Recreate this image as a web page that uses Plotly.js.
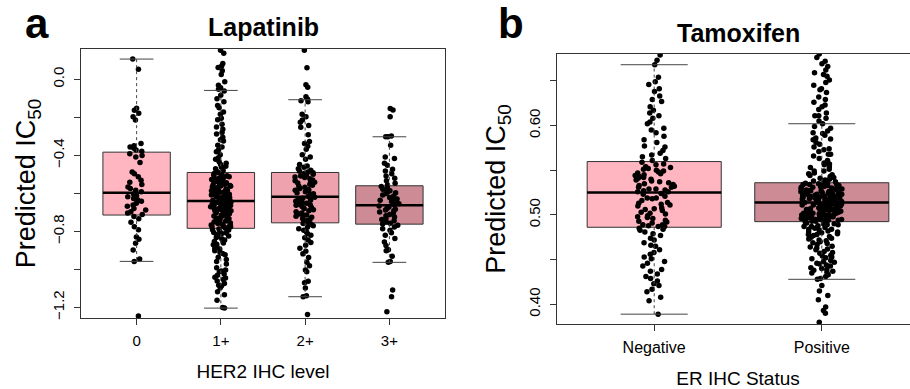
<!DOCTYPE html>
<html>
<head>
<meta charset="utf-8">
<script src="https://cdn.plot.ly/plotly-3.0.1.min.js"></script>
<style>
html, body { margin: 0; padding: 0; overflow: hidden; background: #fff; }
#chart { width: 925px; height: 389px; }
</style>
</head>
<body>
<div id="chart"></div>
<script>
// ---------------- Panel a: Lapatinib ----------------
const lapCats = ['0', '1+', '2+', '3+'];
const lapQ1  = [-0.714, -0.784, -0.755, -0.762];
const lapMed = [-0.597, -0.640, -0.618, -0.663];
const lapQ3  = [-0.383, -0.490, -0.490, -0.560];
const lapLo  = [-0.958, -1.204, -1.144, -0.963];
const lapHi  = [0.107, -0.058, -0.107, -0.302];
const lapColors = ['#FFB6C1', '#FFAEB9', '#EEA2AD', '#CD8C95'];
const lapYTicks = [-1.2, -1.0, -0.8, -0.6, -0.4, -0.2, 0.0];
const lapYLabels = ['\u22121.2', '', '\u22120.8', '', '\u22120.4', '', '0.0'];

const lapPts0 = [0.107, 0.053, -0.152, -0.163, -0.178, -0.196, -0.214, -0.338, -0.349, -0.356, -0.362, -0.371, -0.378,
  -0.392, -0.401, -0.409, -0.437, -0.488, -0.497, -0.512, -0.531, -0.542, -0.553, -0.566, -0.574, -0.583, -0.591,
  -0.603, -0.612, -0.618, -0.627, -0.635, -0.641, -0.652, -0.661, -0.668, -0.679, -0.688, -0.697, -0.703, -0.711,
  -0.722, -0.734, -0.752, -0.776, -0.791, -0.829, -0.841, -0.862, -0.898, -0.946, -0.958, -1.246];
const lapPts1 = [0.154, 0.138, 0.084, 0.071, 0.062, 0.045, 0.026, -0.013, -0.031, -0.044, -0.052, -0.061, -0.083,
  -0.102, -0.118, -0.137, -0.149, -0.171, -0.183, -0.204, -0.213, -0.236, -0.251, -0.262, -0.279, -0.288, -0.304,
  -0.318, -0.324, -0.347, -0.356, -0.372, -0.381, -0.397, -0.413, -0.421, -0.434, -0.441, -0.457, -0.463, -0.479, -0.486,
  -0.492, -0.495, -0.503, -0.507, -0.509, -0.516, -0.521, -0.524, -0.531, -0.533, -0.538, -0.544, -0.547, -0.552,
  -0.558, -0.561, -0.566, -0.569, -0.574, -0.579, -0.583, -0.588, -0.592, -0.594, -0.601, -0.604, -0.611, -0.613,
  -0.618, -0.622, -0.627, -0.631, -0.634, -0.637, -0.639, -0.512, -0.556, -0.597,
  -0.642, -0.645, -0.649, -0.653, -0.655, -0.661, -0.664, -0.668, -0.671, -0.676, -0.679, -0.683, -0.688, -0.691,
  -0.694, -0.699, -0.703, -0.707, -0.711, -0.714, -0.719, -0.723, -0.727, -0.731, -0.734, -0.738, -0.742, -0.747,
  -0.751, -0.756, -0.759, -0.764, -0.767, -0.772, -0.776, -0.779, -0.783, -0.658, -0.716, -0.745,
  -0.788, -0.793, -0.798, -0.806, -0.811, -0.818, -0.824, -0.832, -0.839, -0.846, -0.853, -0.861, -0.868, -0.877,
  -0.884, -0.893, -0.902, -0.911, -0.923, -0.936, -0.948, -0.972, -0.991, -1.003, -1.012, -1.024, -1.031, -1.042,
  -1.053, -1.061, -1.074, -1.088, -1.097, -1.118, -1.134, -1.163, -1.201, -1.204,
  -0.448, -0.471, -0.502, -0.527, -0.541, -0.563, -0.577, -0.586, -0.599, -0.608, -0.616, -0.624, -0.633, -0.644,
  -0.651, -0.662, -0.673, -0.681, -0.692, -0.701, -0.712, -0.721, -0.733, -0.748, -0.762, -0.774, -0.791, -0.808,
  -0.827, -0.848, -0.871, -0.889, -0.917, -0.958, -1.008, -1.046, -1.083];
const lapPts2 = [0.154, 0.061, -0.028, -0.041, -0.092, -0.104, -0.112, -0.118, -0.183, -0.197, -0.214, -0.226, -0.243,
  -0.252, -0.291, -0.327, -0.338, -0.352, -0.368, -0.397, -0.408, -0.421, -0.448, -0.456, -0.462, -0.471, -0.478,
  -0.483, -0.487,
  -0.491, -0.494, -0.499, -0.503, -0.508, -0.514, -0.517, -0.523, -0.529, -0.534, -0.541, -0.546, -0.552, -0.557,
  -0.563, -0.568, -0.574, -0.579, -0.586, -0.591, -0.597, -0.602, -0.607, -0.611, -0.616, -0.538, -0.583,
  -0.621, -0.626, -0.631, -0.636, -0.642, -0.647, -0.652, -0.658, -0.663, -0.669, -0.674, -0.679, -0.686, -0.691,
  -0.697, -0.703, -0.708, -0.714, -0.721, -0.726, -0.732, -0.738, -0.744, -0.749, -0.753, -0.661, -0.717,
  -0.758, -0.763, -0.771, -0.778, -0.786, -0.794, -0.803, -0.812, -0.821, -0.834, -0.846, -0.859, -0.873, -0.889,
  -0.904, -0.918, -0.937, -0.962, -0.981, -1.003, -1.012, -1.063, -1.071, -1.098, -1.139, -1.144, -1.237];
const lapPts3 = [-0.153, -0.161, -0.197, -0.302, -0.302, -0.298, -0.346, -0.408, -0.416, -0.441, -0.452, -0.473,
  -0.482, -0.497, -0.508, -0.521, -0.534, -0.547, -0.556,
  -0.564, -0.571, -0.578, -0.586, -0.593, -0.601, -0.608, -0.614, -0.622, -0.629, -0.636, -0.643, -0.649, -0.655,
  -0.661, -0.597, -0.631,
  -0.666, -0.672, -0.679, -0.684, -0.691, -0.698, -0.703, -0.711, -0.718, -0.724, -0.731, -0.738, -0.744, -0.751,
  -0.757, -0.761, -0.688,
  -0.768, -0.777, -0.786, -0.794, -0.807, -0.821, -0.838, -0.856, -0.874, -0.897, -0.902, -0.931, -0.958, -0.963,
  -1.109, -1.144, -1.223];

// ---------------- Panel b: Tamoxifen ----------------
const tamCats = ['Negative', 'Positive'];
const tamQ1  = [0.4862, 0.4925];
const tamMed = [0.525, 0.514];
const tamQ3  = [0.5597, 0.536];
const tamLo  = [0.389, 0.428];
const tamHi  = [0.668, 0.602];
const tamColors = ['#FFB6C1', '#CD8C95'];
const tamYTicks = [0.40, 0.45, 0.50, 0.55, 0.60, 0.65];
const tamYLabels = ['0.40', '', '0.50', '', '0.60', ''];

const tamNeg = [0.679, 0.673, 0.668, 0.654, 0.649, 0.646, 0.641, 0.638, 0.633, 0.629, 0.627, 0.621, 0.617, 0.614,
  0.611, 0.608, 0.604, 0.602, 0.597, 0.595, 0.592, 0.588, 0.584, 0.581, 0.577, 0.576, 0.572, 0.569, 0.567, 0.565,
  0.563, 0.561,
  0.559, 0.557, 0.556, 0.553, 0.552, 0.551, 0.548, 0.547, 0.546, 0.543, 0.542, 0.541, 0.539, 0.538, 0.537, 0.535,
  0.534, 0.533, 0.531, 0.531, 0.529, 0.528, 0.527, 0.526, 0.526, 0.549, 0.544, 0.536, 0.532, 0.529, 0.545, 0.540,
  0.550, 0.554,
  0.524, 0.523, 0.521, 0.519, 0.518, 0.516, 0.514, 0.512, 0.511, 0.508, 0.507, 0.505, 0.503, 0.502, 0.499, 0.497,
  0.496, 0.494, 0.492, 0.491, 0.489, 0.488, 0.487, 0.487, 0.519, 0.513, 0.506, 0.498, 0.493, 0.489, 0.510, 0.501,
  0.485, 0.484, 0.483, 0.481, 0.479, 0.477, 0.474, 0.472, 0.469, 0.466, 0.465, 0.461, 0.458, 0.456, 0.453, 0.451,
  0.448, 0.446, 0.443, 0.439, 0.437, 0.434, 0.431, 0.429, 0.426, 0.423, 0.421, 0.417, 0.414, 0.408, 0.404, 0.389];
const tamPos = [0.680, 0.676, 0.672, 0.669, 0.666, 0.662, 0.659, 0.655, 0.651, 0.648, 0.645, 0.641, 0.637, 0.632,
  0.629, 0.626, 0.621, 0.618, 0.614, 0.611, 0.608, 0.605, 0.602, 0.599, 0.597, 0.594, 0.591, 0.589, 0.586, 0.584,
  0.581, 0.579, 0.576, 0.573, 0.571, 0.568, 0.566, 0.563, 0.561, 0.558, 0.556, 0.554, 0.551, 0.549, 0.547, 0.545,
  0.543, 0.541, 0.539, 0.537,
  0.5355, 0.535, 0.534, 0.534, 0.533, 0.532, 0.532, 0.531, 0.530, 0.530, 0.529, 0.528, 0.528, 0.527, 0.526, 0.526,
  0.525, 0.525, 0.524, 0.523, 0.523, 0.522, 0.522, 0.521, 0.521, 0.520, 0.520, 0.519, 0.519, 0.518, 0.518, 0.517,
  0.517, 0.516, 0.516, 0.515, 0.515, 0.514, 0.514, 0.533, 0.529, 0.527, 0.524, 0.521, 0.519, 0.517, 0.531, 0.526,
  0.523, 0.515, 0.535, 0.528, 0.520, 0.518, 0.516,
  0.513, 0.513, 0.512, 0.512, 0.511, 0.511, 0.510, 0.510, 0.509, 0.509, 0.508, 0.507, 0.507, 0.506, 0.506, 0.505,
  0.504, 0.504, 0.503, 0.503, 0.502, 0.501, 0.501, 0.500, 0.500, 0.499, 0.499, 0.498, 0.497, 0.497, 0.496, 0.496,
  0.495, 0.495, 0.494, 0.494, 0.493, 0.493, 0.512, 0.508, 0.505, 0.502, 0.498, 0.496, 0.510, 0.506, 0.503, 0.500,
  0.497, 0.494, 0.511, 0.507, 0.502, 0.499, 0.495,
  0.492, 0.491, 0.490, 0.489, 0.488, 0.487, 0.486, 0.485, 0.484, 0.482, 0.481, 0.480, 0.478, 0.477, 0.475, 0.474,
  0.472, 0.470, 0.469, 0.467, 0.465, 0.463, 0.461, 0.459, 0.457, 0.455, 0.453, 0.451, 0.449, 0.447, 0.445, 0.443,
  0.441, 0.439, 0.437, 0.435, 0.433, 0.431, 0.429, 0.428, 0.490, 0.486, 0.483, 0.479, 0.471, 0.462, 0.454, 0.446,
  0.438, 0.421, 0.415, 0.410, 0.405, 0.397, 0.393, 0.390, 0.380,
  0.557, 0.553, 0.549, 0.546, 0.544, 0.542, 0.540, 0.538, 0.536, 0.534, 0.533, 0.531, 0.529, 0.527, 0.525, 0.524,
  0.522, 0.520, 0.519, 0.517, 0.515, 0.513, 0.511, 0.509, 0.508, 0.506, 0.504, 0.502, 0.500, 0.498, 0.496, 0.494,
  0.492, 0.489, 0.487, 0.484, 0.481, 0.478, 0.476, 0.473, 0.468, 0.464, 0.458, 0.452, 0.448, 0.444, 0.440, 0.436,
  0.568, 0.574, 0.585, 0.592, 0.611, 0.623, 0.640, 0.657];

// ---------------- build ----------------
const FONT = 'Liberation Sans, Arial, Helvetica, sans-serif';
const BOXW = 0.8, CAPW = 0.4;
const W = 925, H = 389;

function panelTraces(q1, med, q3, lo, hi, colors, ptsList, xa, ya) {
  const tr = [];
  q1.forEach((v, i) => {
    tr.push({
      type: 'box', xaxis: xa, yaxis: ya, x: [i],
      q1: [q1[i]], median: [med[i]], q3: [q3[i]],
      lowerfence: [q1[i]], upperfence: [q3[i]],
      width: BOXW, whiskerwidth: 0, fillcolor: colors[i],
      line: { color: '#333', width: 1 }, boxpoints: false, hoverinfo: 'skip', showlegend: false
    });
  });
  const px = [], py = [];
  ptsList.forEach((arr, i) => arr.forEach(v => { px.push(i); py.push(v); }));
  tr.push({
    type: 'box', xaxis: xa, yaxis: ya, x: px, y: py, width: BOXW,
    boxpoints: 'all', jitter: 0.32, pointpos: 0,
    fillcolor: 'rgba(0,0,0,0)', line: { width: 0, color: 'rgba(0,0,0,0)' },
    marker: { color: '#000', size: 5.5 }, hoverinfo: 'skip', showlegend: false
  });
  const wx = [], wy = [], cx = [], cy = [], mx = [], my = [];
  q1.forEach((v, i) => {
    wx.push(i, i, null, i, i, null);
    wy.push(q3[i], hi[i], null, q1[i], lo[i], null);
    cx.push(i - CAPW / 2, i + CAPW / 2, null, i - CAPW / 2, i + CAPW / 2, null);
    cy.push(hi[i], hi[i], null, lo[i], lo[i], null);
    mx.push(i - BOXW / 2, i + BOXW / 2, null);
    my.push(med[i], med[i], null);
  });
  tr.push({ type: 'scatter', mode: 'lines', xaxis: xa, yaxis: ya, x: wx, y: wy,
    line: { color: '#444', width: 1, dash: '3px,3px' }, hoverinfo: 'skip', showlegend: false });
  tr.push({ type: 'scatter', mode: 'lines', xaxis: xa, yaxis: ya, x: cx, y: cy,
    line: { color: '#444', width: 1 }, hoverinfo: 'skip', showlegend: false });
  tr.push({ type: 'scatter', mode: 'lines', xaxis: xa, yaxis: ya, x: mx, y: my,
    line: { color: '#000', width: 2.5 }, hoverinfo: 'skip', showlegend: false });
  return tr;
}

const data = [].concat(
  panelTraces(lapQ1, lapMed, lapQ3, lapLo, lapHi, lapColors, [lapPts0, lapPts1, lapPts2, lapPts3], 'x', 'y'),
  panelTraces(tamQ1, tamMed, tamQ3, tamLo, tamHi, tamColors, [tamNeg, tamPos], 'x2', 'y2')
);

function xAxis(domain, range, cats, anchor, size, title, standoff) {
  return {
    domain: domain, range: range, anchor: anchor,
    tickmode: 'array', tickvals: cats.map((c, i) => i), ticktext: cats,
    ticks: 'outside', ticklen: 6, tickcolor: '#333', tickwidth: 1,
    showline: true, mirror: true, linecolor: '#333', linewidth: 1,
    showgrid: false, zeroline: false, fixedrange: true, automargin: false,
    tickfont: { family: FONT, size: size, color: '#000' }, ticklabelstandoff: 3,
    title: { text: title, standoff: standoff, font: { family: FONT, size: 19, color: '#000' } }
  };
}
function yAxis(domain, range, vals, labels, anchor, title, standoff) {
  const major = vals.filter((v, i) => labels[i] !== '');
  const majorText = labels.filter(t => t !== '');
  return {
    domain: domain, range: range, anchor: anchor,
    tickmode: 'array', tickvals: major, ticktext: majorText, tickangle: -90,
    ticks: 'outside', ticklen: 6, tickcolor: '#333', tickwidth: 1,
    minor: { tickmode: 'array', tickvals: vals, ticks: 'outside', ticklen: 6, tickcolor: '#333', tickwidth: 1, showgrid: false },
    showline: true, mirror: true, linecolor: '#333', linewidth: 1,
    showgrid: false, zeroline: false, fixedrange: true, automargin: false,
    tickfont: { family: FONT, size: 15, color: '#000' }, ticklabelstandoff: 4,
    title: { text: title, standoff: standoff, font: { family: FONT, size: 27, color: '#000' } }
  };
}

function ann(text, px, py, size) {
  return { text: text, x: px / W, y: 1 - py / H, xref: 'paper', yref: 'paper',
    xanchor: 'center', yanchor: 'middle', showarrow: false,
    font: { family: FONT, size: size, color: '#000' } };
}

const layout = {
  width: W, height: H,
  margin: { l: 0, r: 0, t: 0, b: 0 },
  paper_bgcolor: '#fff', plot_bgcolor: '#fff',
  showlegend: false, boxmode: 'overlay',
  xaxis: xAxis([81 / W, 445 / W], [-0.66, 3.66], lapCats, 'y', 15, 'HER2 IHC level', 16),
  yaxis: yAxis([71 / H, 340 / H], [-1.256, 0.16], lapYTicks, lapYLabels, 'x', 'Predicted IC<sub>50</sub>', 6),
  xaxis2: xAxis([557 / W, 919 / W], [-0.58, 1.58], tamCats, 'y2', 16, 'ER IHC Status', 16),
  yaxis2: yAxis([65 / H, 335 / H], [0.378, 0.680], tamYTicks, tamYLabels, 'x2', 'Predicted IC<sub>50</sub>', 12),
  annotations: [
    ann('<b>a</b>', 37, 24, 42),
    ann('<b>b</b>', 511, 24, 42),
    ann('<b>Lapatinib</b>', 263, 27, 25),
    ann('<b>Tamoxifen</b>', 738, 33, 25)
  ]
};

Plotly.newPlot('chart', data, layout, { displayModeBar: false, staticPlot: true });
</script>
</body>
</html>
